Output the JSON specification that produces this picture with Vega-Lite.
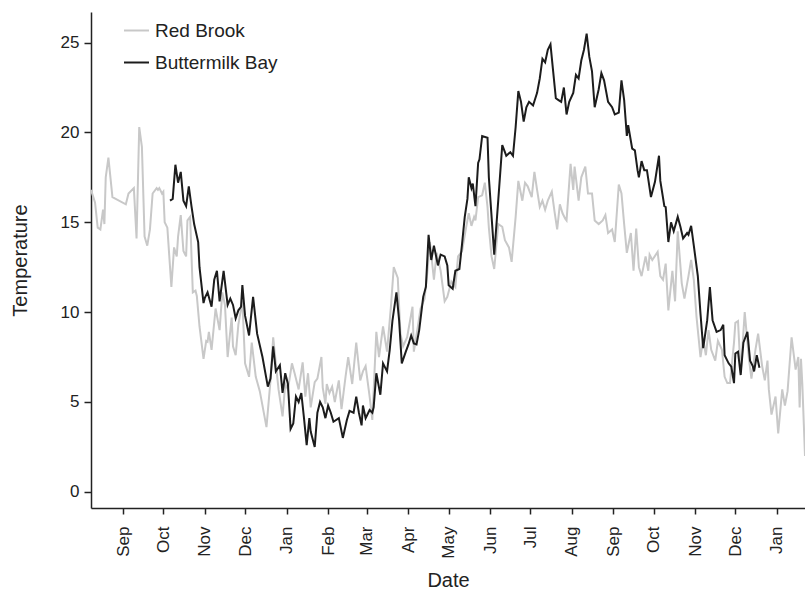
{
"$schema":"https://vega.github.io/schema/vega-lite/v6.json",
"width":714,"height":496,
"autosize":{"type":"none"},
"padding":{"left":91,"top":12,"right":0,"bottom":84},
"background":"white",
"config":{"view":{"stroke":null},"font":"Liberation Sans","axis":{"grid":false}},
"datasets":{"rb":[
{"date":"2007-08-08","temp":16.8},{"date":"2007-08-11","temp":16.1},{"date":"2007-08-13","temp":14.7},{"date":"2007-08-15","temp":14.6},{"date":"2007-08-17","temp":15.7},{"date":"2007-08-18","temp":14.9},{"date":"2007-08-19","temp":17.5},{"date":"2007-08-21","temp":18.6},{"date":"2007-08-24","temp":16.4},{"date":"2007-09-03","temp":16.0},{"date":"2007-09-05","temp":16.6},{"date":"2007-09-09","temp":16.9},{"date":"2007-09-11","temp":14.1},{"date":"2007-09-13","temp":20.3},{"date":"2007-09-15","temp":19.2},{"date":"2007-09-17","temp":14.2},{"date":"2007-09-19","temp":13.7},{"date":"2007-09-21","temp":14.6},{"date":"2007-09-23","temp":16.6},{"date":"2007-09-26","temp":16.9},{"date":"2007-09-27","temp":16.8},{"date":"2007-09-28","temp":16.9},{"date":"2007-09-30","temp":16.6},{"date":"2007-10-01","temp":16.7},{"date":"2007-10-02","temp":15.0},{"date":"2007-10-04","temp":14.7},{"date":"2007-10-07","temp":11.4},{"date":"2007-10-09","temp":13.6},{"date":"2007-10-11","temp":13.1},{"date":"2007-10-12","temp":14.2},{"date":"2007-10-14","temp":15.4},{"date":"2007-10-16","temp":13.4},{"date":"2007-10-18","temp":13.1},{"date":"2007-10-19","temp":15.1},{"date":"2007-10-21","temp":15.3},{"date":"2007-10-23","temp":11.1},{"date":"2007-10-25","temp":11.2},{"date":"2007-10-26","temp":10.9},{"date":"2007-10-28","temp":9.2},{"date":"2007-10-31","temp":7.4},{"date":"2007-11-02","temp":8.4},{"date":"2007-11-03","temp":8.35},{"date":"2007-11-04","temp":8.9},{"date":"2007-11-06","temp":7.9},{"date":"2007-11-09","temp":10.2},{"date":"2007-11-12","temp":9.0},{"date":"2007-11-14","temp":11.1},{"date":"2007-11-16","temp":10.4},{"date":"2007-11-18","temp":7.5},{"date":"2007-11-21","temp":9.7},{"date":"2007-11-22","temp":8.1},{"date":"2007-11-24","temp":7.6},{"date":"2007-11-26","temp":9.3},{"date":"2007-11-29","temp":10.6},{"date":"2007-12-01","temp":7.15},{"date":"2007-12-04","temp":6.4},{"date":"2007-12-06","temp":8.3},{"date":"2007-12-09","temp":6.4},{"date":"2007-12-12","temp":5.6},{"date":"2007-12-17","temp":3.6},{"date":"2007-12-20","temp":6.2},{"date":"2007-12-22","temp":8.6},{"date":"2007-12-24","temp":7.15},{"date":"2007-12-26","temp":5.7},{"date":"2007-12-29","temp":4.2},{"date":"2007-12-31","temp":6.0},{"date":"2008-01-02","temp":5.7},{"date":"2008-01-05","temp":7.15},{"date":"2008-01-07","temp":6.6},{"date":"2008-01-10","temp":5.7},{"date":"2008-01-13","temp":7.2},{"date":"2008-01-15","temp":5.3},{"date":"2008-01-17","temp":6.6},{"date":"2008-01-19","temp":4.7},{"date":"2008-01-22","temp":6.1},{"date":"2008-01-24","temp":6.3},{"date":"2008-01-27","temp":7.5},{"date":"2008-01-28","temp":5.8},{"date":"2008-01-30","temp":4.9},{"date":"2008-01-31","temp":6.0},{"date":"2008-02-02","temp":5.5},{"date":"2008-02-04","temp":5.85},{"date":"2008-02-06","temp":5.0},{"date":"2008-02-09","temp":6.2},{"date":"2008-02-11","temp":4.6},{"date":"2008-02-14","temp":6.4},{"date":"2008-02-16","temp":7.5},{"date":"2008-02-19","temp":6.0},{"date":"2008-02-22","temp":8.3},{"date":"2008-02-25","temp":6.2},{"date":"2008-02-27","temp":6.7},{"date":"2008-02-29","temp":7.0},{"date":"2008-03-03","temp":5.3},{"date":"2008-03-05","temp":4.0},{"date":"2008-03-08","temp":8.9},{"date":"2008-03-10","temp":7.5},{"date":"2008-03-13","temp":9.2},{"date":"2008-03-16","temp":7.8},{"date":"2008-03-19","temp":10.4},{"date":"2008-03-21","temp":12.5},{"date":"2008-03-24","temp":11.9},{"date":"2008-03-26","temp":8.8},{"date":"2008-03-28","temp":8.1},{"date":"2008-03-31","temp":8.6},{"date":"2008-04-04","temp":10.3},{"date":"2008-04-05","temp":7.8},{"date":"2008-04-08","temp":9.2},{"date":"2008-04-10","temp":10.2},{"date":"2008-04-13","temp":10.75},{"date":"2008-04-15","temp":12.15},{"date":"2008-04-17","temp":13.9},{"date":"2008-04-20","temp":11.8},{"date":"2008-04-22","temp":13.3},{"date":"2008-04-25","temp":12.3},{"date":"2008-04-28","temp":10.6},{"date":"2008-04-30","temp":10.85},{"date":"2008-05-03","temp":11.7},{"date":"2008-05-06","temp":11.4},{"date":"2008-05-08","temp":13.1},{"date":"2008-05-11","temp":13.4},{"date":"2008-05-14","temp":14.7},{"date":"2008-05-16","temp":15.5},{"date":"2008-05-18","temp":14.8},{"date":"2008-05-20","temp":15.3},{"date":"2008-05-21","temp":15.1},{"date":"2008-05-23","temp":16.4},{"date":"2008-05-26","temp":16.5},{"date":"2008-05-28","temp":17.2},{"date":"2008-05-30","temp":15.85},{"date":"2008-05-31","temp":14.7},{"date":"2008-06-02","temp":13.1},{"date":"2008-06-04","temp":12.4},{"date":"2008-06-07","temp":14.9},{"date":"2008-06-10","temp":14.75},{"date":"2008-06-12","temp":14.0},{"date":"2008-06-15","temp":13.6},{"date":"2008-06-17","temp":12.8},{"date":"2008-06-20","temp":15.3},{"date":"2008-06-22","temp":17.3},{"date":"2008-06-25","temp":16.2},{"date":"2008-06-27","temp":17.2},{"date":"2008-06-29","temp":17.0},{"date":"2008-07-02","temp":16.4},{"date":"2008-07-04","temp":17.8},{"date":"2008-07-06","temp":16.8},{"date":"2008-07-08","temp":15.85},{"date":"2008-07-10","temp":16.2},{"date":"2008-07-12","temp":15.7},{"date":"2008-07-14","temp":16.2},{"date":"2008-07-17","temp":16.7},{"date":"2008-07-19","temp":15.6},{"date":"2008-07-21","temp":14.6},{"date":"2008-07-23","temp":16.0},{"date":"2008-07-25","temp":15.5},{"date":"2008-07-27","temp":15.2},{"date":"2008-07-28","temp":15.1},{"date":"2008-07-31","temp":18.25},{"date":"2008-08-02","temp":16.8},{"date":"2008-08-03","temp":18.1},{"date":"2008-08-06","temp":16.2},{"date":"2008-08-08","temp":17.5},{"date":"2008-08-11","temp":18.1},{"date":"2008-08-13","temp":16.6},{"date":"2008-08-16","temp":16.6},{"date":"2008-08-18","temp":15.1},{"date":"2008-08-21","temp":14.9},{"date":"2008-08-24","temp":15.1},{"date":"2008-08-26","temp":15.4},{"date":"2008-08-28","temp":14.4},{"date":"2008-08-31","temp":14.6},{"date":"2008-09-02","temp":13.9},{"date":"2008-09-05","temp":17.1},{"date":"2008-09-07","temp":16.6},{"date":"2008-09-09","temp":14.9},{"date":"2008-09-11","temp":13.3},{"date":"2008-09-14","temp":14.4},{"date":"2008-09-16","temp":12.3},{"date":"2008-09-18","temp":14.65},{"date":"2008-09-20","temp":12.5},{"date":"2008-09-22","temp":12.0},{"date":"2008-09-25","temp":13.1},{"date":"2008-09-27","temp":12.3},{"date":"2008-09-28","temp":13.2},{"date":"2008-09-30","temp":12.9},{"date":"2008-10-04","temp":13.35},{"date":"2008-10-06","temp":12.0},{"date":"2008-10-08","temp":11.8},{"date":"2008-10-10","temp":12.7},{"date":"2008-10-12","temp":10.1},{"date":"2008-10-15","temp":12.3},{"date":"2008-10-17","temp":10.6},{"date":"2008-10-19","temp":14.5},{"date":"2008-10-22","temp":11.6},{"date":"2008-10-24","temp":10.75},{"date":"2008-10-27","temp":12.0},{"date":"2008-10-29","temp":12.9},{"date":"2008-10-31","temp":11.8},{"date":"2008-11-02","temp":9.75},{"date":"2008-11-05","temp":7.5},{"date":"2008-11-07","temp":8.5},{"date":"2008-11-09","temp":7.6},{"date":"2008-11-11","temp":9.0},{"date":"2008-11-13","temp":7.9},{"date":"2008-11-16","temp":7.3},{"date":"2008-11-18","temp":8.4},{"date":"2008-11-21","temp":7.9},{"date":"2008-11-23","temp":6.4},{"date":"2008-11-25","temp":6.05},{"date":"2008-11-27","temp":6.05},{"date":"2008-11-30","temp":8.3},{"date":"2008-12-01","temp":9.4},{"date":"2008-12-03","temp":9.5},{"date":"2008-12-05","temp":6.6},{"date":"2008-12-08","temp":10.0},{"date":"2008-12-11","temp":7.5},{"date":"2008-12-13","temp":6.3},{"date":"2008-12-16","temp":7.9},{"date":"2008-12-18","temp":8.8},{"date":"2008-12-21","temp":7.0},{"date":"2008-12-23","temp":6.2},{"date":"2008-12-25","temp":7.3},{"date":"2008-12-26","temp":5.7},{"date":"2008-12-28","temp":4.3},{"date":"2008-12-31","temp":5.3},{"date":"2009-01-02","temp":3.25},{"date":"2009-01-05","temp":5.7},{"date":"2009-01-07","temp":4.8},{"date":"2009-01-09","temp":5.6},{"date":"2009-01-12","temp":8.6},{"date":"2009-01-15","temp":6.8},{"date":"2009-01-17","temp":7.5},{"date":"2009-01-18","temp":4.7},{"date":"2009-01-19","temp":7.4},{"date":"2009-01-20","temp":6.0},{"date":"2009-01-22","temp":2.0}
],
"bb":[
{"date":"2007-10-06","temp":16.2},{"date":"2007-10-08","temp":16.3},{"date":"2007-10-10","temp":18.2},{"date":"2007-10-12","temp":17.2},{"date":"2007-10-14","temp":17.8},{"date":"2007-10-16","temp":16.2},{"date":"2007-10-18","temp":15.9},{"date":"2007-10-20","temp":17.0},{"date":"2007-10-22","temp":15.9},{"date":"2007-10-24","temp":14.9},{"date":"2007-10-27","temp":13.9},{"date":"2007-10-28","temp":12.5},{"date":"2007-10-31","temp":10.5},{"date":"2007-11-01","temp":10.8},{"date":"2007-11-03","temp":11.1},{"date":"2007-11-06","temp":10.3},{"date":"2007-11-08","temp":11.8},{"date":"2007-11-10","temp":12.3},{"date":"2007-11-12","temp":10.6},{"date":"2007-11-15","temp":12.3},{"date":"2007-11-18","temp":10.4},{"date":"2007-11-20","temp":10.75},{"date":"2007-11-22","temp":10.4},{"date":"2007-11-24","temp":9.65},{"date":"2007-11-26","temp":10.1},{"date":"2007-11-28","temp":10.3},{"date":"2007-11-29","temp":11.5},{"date":"2007-12-01","temp":9.8},{"date":"2007-12-04","temp":8.7},{"date":"2007-12-07","temp":10.85},{"date":"2007-12-10","temp":8.8},{"date":"2007-12-14","temp":7.5},{"date":"2007-12-18","temp":5.85},{"date":"2007-12-20","temp":6.3},{"date":"2007-12-22","temp":8.1},{"date":"2007-12-24","temp":6.7},{"date":"2007-12-27","temp":7.05},{"date":"2007-12-29","temp":5.5},{"date":"2007-12-31","temp":6.6},{"date":"2008-01-02","temp":6.0},{"date":"2008-01-04","temp":3.5},{"date":"2008-01-06","temp":3.8},{"date":"2008-01-08","temp":5.3},{"date":"2008-01-10","temp":5.0},{"date":"2008-01-12","temp":5.5},{"date":"2008-01-14","temp":4.1},{"date":"2008-01-16","temp":2.6},{"date":"2008-01-18","temp":4.1},{"date":"2008-01-19","temp":3.35},{"date":"2008-01-22","temp":2.5},{"date":"2008-01-24","temp":4.4},{"date":"2008-01-26","temp":5.0},{"date":"2008-01-28","temp":4.7},{"date":"2008-01-30","temp":4.1},{"date":"2008-02-01","temp":4.8},{"date":"2008-02-03","temp":4.4},{"date":"2008-02-05","temp":3.9},{"date":"2008-02-09","temp":4.1},{"date":"2008-02-12","temp":3.0},{"date":"2008-02-15","temp":4.0},{"date":"2008-02-17","temp":4.5},{"date":"2008-02-20","temp":4.4},{"date":"2008-02-22","temp":5.3},{"date":"2008-02-24","temp":4.4},{"date":"2008-02-26","temp":3.7},{"date":"2008-02-27","temp":4.8},{"date":"2008-02-29","temp":4.1},{"date":"2008-03-03","temp":4.55},{"date":"2008-03-05","temp":4.4},{"date":"2008-03-06","temp":4.7},{"date":"2008-03-08","temp":6.6},{"date":"2008-03-11","temp":5.4},{"date":"2008-03-13","temp":7.15},{"date":"2008-03-16","temp":6.7},{"date":"2008-03-18","temp":7.9},{"date":"2008-03-20","temp":9.5},{"date":"2008-03-23","temp":11.1},{"date":"2008-03-25","temp":9.55},{"date":"2008-03-27","temp":7.15},{"date":"2008-03-30","temp":7.8},{"date":"2008-04-01","temp":8.2},{"date":"2008-04-03","temp":8.7},{"date":"2008-04-05","temp":8.26},{"date":"2008-04-07","temp":8.2},{"date":"2008-04-09","temp":9.0},{"date":"2008-04-12","temp":10.85},{"date":"2008-04-14","temp":11.4},{"date":"2008-04-16","temp":14.3},{"date":"2008-04-18","temp":12.9},{"date":"2008-04-20","temp":13.7},{"date":"2008-04-23","temp":12.6},{"date":"2008-04-25","temp":13.2},{"date":"2008-04-28","temp":13.1},{"date":"2008-04-30","temp":12.6},{"date":"2008-05-01","temp":11.5},{"date":"2008-05-04","temp":11.3},{"date":"2008-05-06","temp":12.3},{"date":"2008-05-09","temp":12.4},{"date":"2008-05-11","temp":13.8},{"date":"2008-05-13","temp":15.3},{"date":"2008-05-15","temp":16.3},{"date":"2008-05-16","temp":17.5},{"date":"2008-05-18","temp":16.9},{"date":"2008-05-19","temp":17.15},{"date":"2008-05-21","temp":15.9},{"date":"2008-05-23","temp":18.3},{"date":"2008-05-24","temp":18.5},{"date":"2008-05-26","temp":19.8},{"date":"2008-05-30","temp":19.7},{"date":"2008-05-31","temp":17.5},{"date":"2008-06-04","temp":13.2},{"date":"2008-06-07","temp":16.2},{"date":"2008-06-10","temp":19.3},{"date":"2008-06-12","temp":18.9},{"date":"2008-06-13","temp":18.7},{"date":"2008-06-16","temp":18.9},{"date":"2008-06-18","temp":18.7},{"date":"2008-06-20","temp":20.3},{"date":"2008-06-22","temp":22.3},{"date":"2008-06-24","temp":21.7},{"date":"2008-06-26","temp":20.6},{"date":"2008-06-28","temp":21.4},{"date":"2008-06-30","temp":21.7},{"date":"2008-07-03","temp":21.5},{"date":"2008-07-06","temp":22.2},{"date":"2008-07-08","temp":23.0},{"date":"2008-07-10","temp":24.1},{"date":"2008-07-12","temp":23.9},{"date":"2008-07-14","temp":24.6},{"date":"2008-07-16","temp":24.9},{"date":"2008-07-18","temp":23.4},{"date":"2008-07-20","temp":21.9},{"date":"2008-07-22","temp":21.8},{"date":"2008-07-24","temp":21.7},{"date":"2008-07-26","temp":22.5},{"date":"2008-07-28","temp":21.0},{"date":"2008-07-30","temp":21.7},{"date":"2008-08-02","temp":22.2},{"date":"2008-08-04","temp":23.2},{"date":"2008-08-06","temp":23.0},{"date":"2008-08-08","temp":24.0},{"date":"2008-08-10","temp":24.6},{"date":"2008-08-12","temp":25.5},{"date":"2008-08-14","temp":24.2},{"date":"2008-08-16","temp":23.4},{"date":"2008-08-18","temp":21.4},{"date":"2008-08-21","temp":22.4},{"date":"2008-08-23","temp":23.3},{"date":"2008-08-25","temp":22.9},{"date":"2008-08-28","temp":21.7},{"date":"2008-08-31","temp":21.4},{"date":"2008-09-02","temp":21.0},{"date":"2008-09-05","temp":21.1},{"date":"2008-09-07","temp":22.9},{"date":"2008-09-09","temp":21.8},{"date":"2008-09-11","temp":19.8},{"date":"2008-09-12","temp":20.4},{"date":"2008-09-15","temp":19.1},{"date":"2008-09-17","temp":19.0},{"date":"2008-09-19","temp":17.9},{"date":"2008-09-20","temp":17.5},{"date":"2008-09-22","temp":18.4},{"date":"2008-09-24","temp":17.9},{"date":"2008-09-26","temp":17.9},{"date":"2008-09-29","temp":16.4},{"date":"2008-10-02","temp":17.25},{"date":"2008-10-05","temp":18.7},{"date":"2008-10-06","temp":17.3},{"date":"2008-10-09","temp":15.9},{"date":"2008-10-10","temp":15.85},{"date":"2008-10-12","temp":13.9},{"date":"2008-10-14","temp":15.0},{"date":"2008-10-16","temp":14.5},{"date":"2008-10-19","temp":15.3},{"date":"2008-10-21","temp":14.75},{"date":"2008-10-23","temp":14.1},{"date":"2008-10-26","temp":14.4},{"date":"2008-10-27","temp":14.3},{"date":"2008-10-29","temp":14.8},{"date":"2008-10-31","temp":13.7},{"date":"2008-11-03","temp":12.0},{"date":"2008-11-05","temp":9.9},{"date":"2008-11-07","temp":8.0},{"date":"2008-11-10","temp":9.55},{"date":"2008-11-12","temp":11.4},{"date":"2008-11-14","temp":9.55},{"date":"2008-11-17","temp":8.9},{"date":"2008-11-20","temp":9.0},{"date":"2008-11-22","temp":9.3},{"date":"2008-11-23","temp":7.6},{"date":"2008-11-26","temp":7.15},{"date":"2008-11-28","temp":6.96},{"date":"2008-11-30","temp":6.05},{"date":"2008-12-01","temp":7.7},{"date":"2008-12-03","temp":7.8},{"date":"2008-12-05","temp":6.5},{"date":"2008-12-07","temp":8.3},{"date":"2008-12-10","temp":8.9},{"date":"2008-12-12","temp":7.3},{"date":"2008-12-14","temp":7.0},{"date":"2008-12-15","temp":6.7},{"date":"2008-12-17","temp":7.6},{"date":"2008-12-19","temp":6.9}
]},
"encoding":{
 "x":{"field":"date","type":"temporal","title":"Date",
  "scale":{"domain":[{"year":2007,"month":8,"date":8},{"year":2009,"month":1,"date":22}]},
  "axis":{"format":"%b","tickCount":{"interval":"month","step":1},"labelAngle":-90,"labelAlign":"right","labelBaseline":"middle","labelFontSize":17,"labelColor":"#222","labelPadding":12,"labelFlush":false,"labelOverlap":false,"tickSize":6,"tickColor":"#222","tickWidth":1.5,"domainColor":"#222","domainWidth":1.5,"titleFontSize":20,"titleFontWeight":"normal","titleColor":"#222","titlePadding":12}},
 "y":{"field":"temp","type":"quantitative","title":"Temperature",
  "scale":{"domain":[-0.9,26.7],"nice":false,"zero":false},
  "axis":{"values":[0,5,10,15,20,25],"labelFontSize":17,"labelColor":"#222","labelPadding":5,"tickSize":7,"tickColor":"#222","tickWidth":1.5,"domainColor":"#222","domainWidth":1.5,"titleFontSize":20,"titleFontWeight":"normal","titleColor":"#222","titlePadding":30}}
},
"layer":[
 {"data":{"name":"rb"},"mark":{"type":"line","strokeWidth":2,"clip":true},
  "encoding":{"color":{"datum":"Red Brook","type":"nominal",
   "scale":{"domain":["Red Brook","Buttermilk Bay"],"range":["#c8c8c8","#1c1c1c"]},
   "legend":{"title":null,"orient":"none","legendX":32,"legendY":5,"padding":0,"symbolType":"stroke","symbolSize":625,"symbolStrokeWidth":2,"labelFontSize":19,"labelColor":"#222","labelOffset":5,"rowPadding":8}}}},
 {"data":{"name":"bb"},"mark":{"type":"line","strokeWidth":2,"clip":true},
  "encoding":{"color":{"datum":"Buttermilk Bay","type":"nominal"}}}
]
}
